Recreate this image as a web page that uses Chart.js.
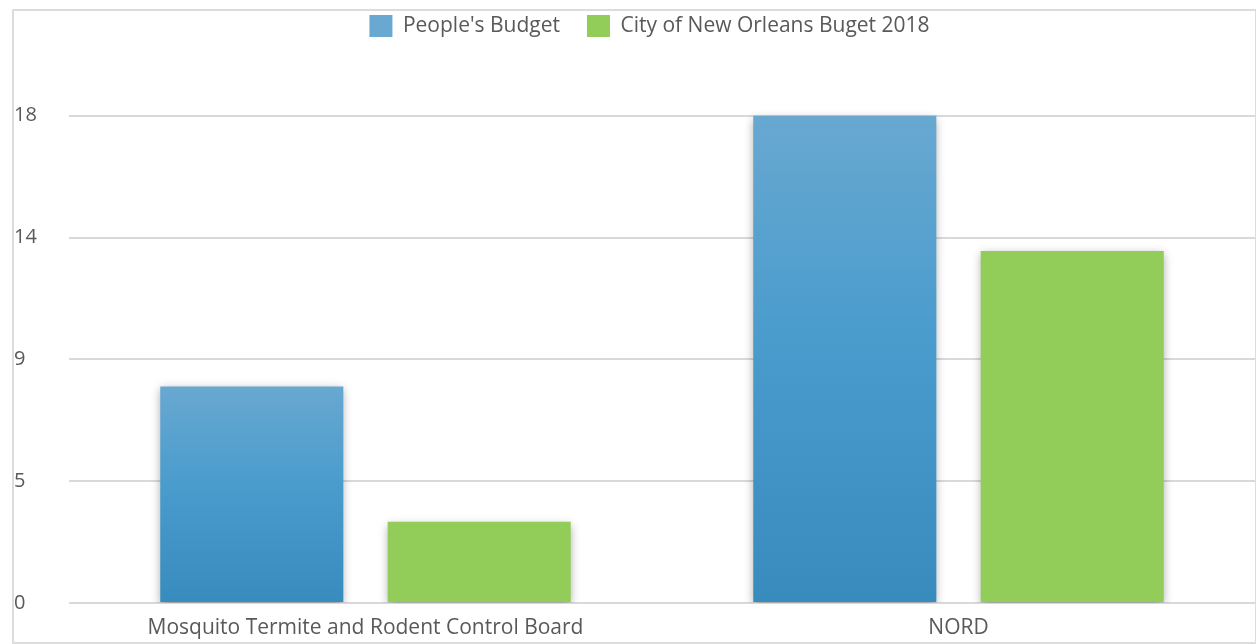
<!DOCTYPE html>
<html>
<head>
<meta charset="utf-8">
<script src="https://cdn.jsdelivr.net/npm/chart.js@4"></script>
<style>
  html, body { margin: 0; padding: 0; background: #fff; }
  #frame {
    position: absolute; left: 12px; top: 9px;
    width: 1241px; height: 631px;
    border: 2px solid #dcdcdc;
  }
</style>
</head>
<body>
<div id="frame"><canvas id="chart" width="1241" height="631"></canvas></div>
<script>
const categories = ['Mosquito Termite and Rodent Control Board', 'NORD'];
const peoplesBudget = [8, 18];
const cityBudget2018 = [3, 13];
const tickValues = [0, 4.5, 9, 13.5, 18];

const FONT = '"Open Sans", "Noto Sans", sans-serif';
const TEXT = '#595959';

// blue bars fade from light at the top to darker at the base
function blueFill(c) {
  const chart = c.chart;
  if (!chart.chartArea || c.dataIndex === undefined) return '#4f9dcc';
  const y = chart.scales.y;
  const top = y.getPixelForValue(c.raw);
  const base = y.getPixelForValue(0);
  const g = chart.ctx.createLinearGradient(0, top, 0, base);
  g.addColorStop(0, '#68a8d1');
  g.addColorStop(0.45, '#4a9ccd');
  g.addColorStop(1, '#388bbd');
  return g;
}

const shadow = {
  id: 'barShadow',
  beforeDatasetsDraw(chart) {
    const ctx = chart.ctx;
    ctx.save();
    ctx.shadowColor = 'rgba(0,0,0,0.35)';
    ctx.shadowBlur = 9;
    ctx.shadowOffsetY = 3;
  },
  afterDatasetsDraw(chart) {
    chart.ctx.restore();
  }
};

// fixed legend band height, legend nudged a bit right like the original
const legendBand = {
  id: 'legendBand',
  beforeInit(chart) {
    const lg = chart.legend;
    const fit = lg.fit;
    lg.fit = function () {
      fit.call(this);
      this.height = 60;
    };
    const draw = lg.draw;
    lg.draw = function () {
      const ctx = chart.ctx;
      ctx.save();
      ctx.translate(15, 0);
      draw.apply(this, arguments);
      ctx.restore();
    };
  }
};

new Chart(document.getElementById('chart'), {
  type: 'bar',
  data: {
    labels: categories,
    datasets: [{
      label: "People's Budget",
      data: peoplesBudget,
      backgroundColor: blueFill,
      borderWidth: 0
    }, {
      label: 'City of New Orleans Buget 2018',
      data: cityBudget2018,
      backgroundColor: '#93cd59',
      borderWidth: 0
    }]
  },
  options: {
    responsive: false,
    animation: false,
    categoryPercentage: 0.767,
    barPercentage: 0.805,
    layout: { padding: { top: -23 } },
    scales: {
      x: {
        grid: { display: false, drawTicks: false },
        border: { display: false },
        ticks: { color: TEXT, font: { family: FONT, size: 21 }, padding: 12 },
        afterFit(s) { s.height = 39; }
      },
      y: {
        min: 0,
        max: 20.5,
        afterBuildTicks(s) { s.ticks = tickValues.map(v => ({ value: v })); },
        grid: { color: '#d9d9d9', lineWidth: 2, drawTicks: false },
        border: { display: false },
        ticks: {
          color: TEXT,
          font: { family: FONT, size: 20 },
          crossAlign: 'far',
          padding: 0,
          callback: v => String(Math.round(v))
        },
        afterFit(s) { s.width = 55; }
      }
    },
    plugins: {
      legend: {
        position: 'top',
        labels: {
          color: TEXT,
          font: { family: FONT, size: 21 },
          boxWidth: 23,
          boxHeight: 22,
          padding: 27
        }
      },
      tooltip: { enabled: false }
    }
  },
  plugins: [shadow, legendBand]
});
</script>
</body>
</html>
